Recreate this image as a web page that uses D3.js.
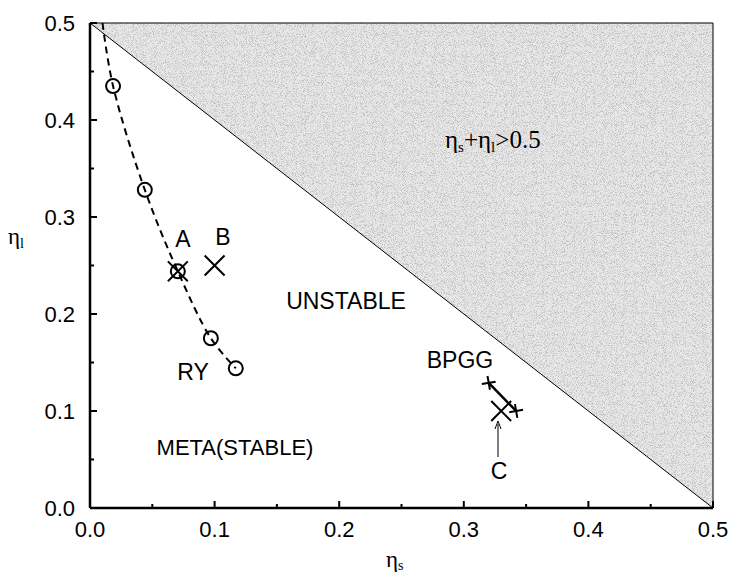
<!DOCTYPE html>
<html>
<head>
<meta charset="utf-8">
<script src="https://cdn.jsdelivr.net/npm/d3@7"></script>
<style>
  html, body { margin: 0; padding: 0; background: #fff; }
  svg { display: block; }
  text { font-family: "Liberation Sans", Arial, Helvetica, sans-serif; fill: #000; }
  .serif { font-family: "Liberation Serif", "Times New Roman", serif; }
</style>
</head>
<body>
<svg id="chart" width="729" height="576"></svg>
<script>
// Stability boundary traced by the dashed curve (eta_s, eta_l)
const boundaryS = [0.010, 0.0185, 0.044, 0.0705, 0.097, 0.117];
const boundaryL = [0.500, 0.435, 0.328, 0.244, 0.175, 0.144];
// Circles computed along the boundary (first point is the curve's start)
const circleS = [0.0185, 0.044, 0.0705, 0.097, 0.117];
const circleL = [0.435, 0.328, 0.244, 0.175, 0.144];
// Cross markers: A, B, C
const crossNames = ["A", "B", "C"];
const crossS = [0.0705, 0.100, 0.330];
const crossL = [0.244, 0.250, 0.100];
// BPGG pair joined by a segment
const plusS = [0.320, 0.342];
const plusL = [0.129, 0.100];
// Axis ticks
const majorTicks = [0.0, 0.1, 0.2, 0.3, 0.4, 0.5];
const minorTicks = [0.05, 0.15, 0.25, 0.35, 0.45];
const tickLabels = ["0.0", "0.1", "0.2", "0.3", "0.4", "0.5"];

const svg = d3.select("#chart");
const x = d3.scaleLinear().domain([0, 0.5]).range([90, 713]);
const y = d3.scaleLinear().domain([0, 0.5]).range([508, 23]);

// Stipple texture for the region eta_s + eta_l > 0.5
const defs = svg.append("defs");
const f = defs.append("filter").attr("id", "stipple")
  .attr("x", 0).attr("y", 0).attr("width", 1).attr("height", 1);
f.append("feTurbulence").attr("type", "fractalNoise").attr("baseFrequency", 1.1)
  .attr("numOctaves", 2).attr("seed", 7).attr("result", "n");
f.append("feColorMatrix").attr("in", "n").attr("type", "matrix")
  .attr("values", "0 0 0 0 0  0 0 0 0 0  0 0 0 0 0  5 0 0 0 -2.4").attr("result", "dots");
f.append("feComposite").attr("in", "dots").attr("in2", "SourceGraphic").attr("operator", "in");

const tri = [[0, 0.5], [0.5, 0.5], [0.5, 0]];
const triPath = d3.line().x(d => x(d[0])).y(d => y(d[1]))(tri) + "Z";
svg.append("path").attr("d", triPath).attr("fill", "#e8e8e8");
svg.append("path").attr("d", triPath).attr("fill", "#000").attr("opacity", 0.16)
  .attr("filter", "url(#stipple)");

// Frame lines of the shaded region and the diagonal eta_s + eta_l = 0.5
svg.append("path").attr("d", triPath).attr("fill", "none")
  .attr("stroke", "#000").attr("stroke-width", 1);

// Axes with inward ticks
majorTicks.forEach(v => svg.append("line")
  .attr("x1", x(v)).attr("x2", x(v)).attr("y1", y(0)).attr("y2", y(0) - 7)
  .attr("stroke", "#000").attr("stroke-width", 2));
minorTicks.forEach(v => svg.append("line")
  .attr("x1", x(v)).attr("x2", x(v)).attr("y1", y(0)).attr("y2", y(0) - 4)
  .attr("stroke", "#000").attr("stroke-width", 2));
majorTicks.forEach(v => svg.append("line")
  .attr("y1", y(v)).attr("y2", y(v)).attr("x1", x(0)).attr("x2", x(0) + 7)
  .attr("stroke", "#000").attr("stroke-width", 2));
minorTicks.forEach(v => svg.append("line")
  .attr("y1", y(v)).attr("y2", y(v)).attr("x1", x(0)).attr("x2", x(0) + 4)
  .attr("stroke", "#000").attr("stroke-width", 2));
svg.append("line").attr("x1", x(0)).attr("x2", x(0.5)).attr("y1", y(0)).attr("y2", y(0))
  .attr("stroke", "#000").attr("stroke-width", 2.5);
svg.append("line").attr("x1", x(0)).attr("x2", x(0)).attr("y1", y(0)).attr("y2", y(0.5))
  .attr("stroke", "#000").attr("stroke-width", 2.5);

svg.append("g").selectAll("text").data(majorTicks).join("text")
  .attr("x", d => x(d)).attr("y", 537).attr("text-anchor", "middle")
  .attr("font-size", 22).text((d, i) => tickLabels[i]);
svg.append("g").selectAll("text").data(majorTicks).join("text")
  .attr("x", 75).attr("y", d => y(d) + 8).attr("text-anchor", "end")
  .attr("font-size", 22).text((d, i) => tickLabels[i]);

// Axis titles
const xt = svg.append("text").attr("class", "serif").attr("x", 386).attr("y", 567).attr("font-size", 23);
xt.append("tspan").text("η");
xt.append("tspan").attr("font-size", 14).attr("dy", 3).text("s");
const yt = svg.append("text").attr("class", "serif").attr("x", 8).attr("y", 244).attr("font-size", 23);
yt.append("tspan").text("η");
yt.append("tspan").attr("font-size", 14).attr("dy", 4).text("l");

// Region label
const rl = svg.append("text").attr("class", "serif").attr("x", 445).attr("y", 148).attr("font-size", 25);
rl.append("tspan").text("η");
rl.append("tspan").attr("font-size", 15).attr("dy", 4).text("s");
rl.append("tspan").attr("dy", -4).text("+η");
rl.append("tspan").attr("font-size", 15).attr("dy", 4).text("l");
rl.append("tspan").attr("dy", -4).text(">0.5");

// Dashed boundary curve
const bnd = boundaryS.map((s, i) => [s, boundaryL[i]]);
svg.append("path")
  .attr("d", d3.line().x(d => x(d[0])).y(d => y(d[1])).curve(d3.curveCatmullRom)(bnd))
  .attr("fill", "none").attr("stroke", "#000").attr("stroke-width", 2)
  .attr("stroke-dasharray", "7,5");

// Circles
svg.append("g").selectAll("circle").data(circleS).join("circle")
  .attr("cx", d => x(d)).attr("cy", (d, i) => y(circleL[i])).attr("r", 7)
  .attr("fill", "none").attr("stroke", "#000").attr("stroke-width", 2);

// Cross markers
const cross = d3.symbol().type(d3.symbolTimes).size(260);
svg.append("g").selectAll("path").data(crossS).join("path")
  .attr("transform", (d, i) => `translate(${x(d)},${y(crossL[i])})`)
  .attr("d", cross).attr("fill", "none").attr("stroke", "#000").attr("stroke-width", 2);

// BPGG segment and plus markers
svg.append("line")
  .attr("x1", x(plusS[0])).attr("y1", y(plusL[0]))
  .attr("x2", x(plusS[1])).attr("y2", y(plusL[1]))
  .attr("stroke", "#000").attr("stroke-width", 2.5);
svg.append("g").selectAll("g").data(plusS).join("g")
  .attr("transform", (d, i) => `translate(${x(d)},${y(plusL[i])}) rotate(-10)`)
  .each(function () {
    const g = d3.select(this);
    g.append("line").attr("x1", -7).attr("x2", 7).attr("stroke", "#000").attr("stroke-width", 2);
    g.append("line").attr("y1", -7).attr("y2", 7).attr("stroke", "#000").attr("stroke-width", 2);
  });

// Text labels
svg.append("text").attr("x", 183).attr("y", 247).attr("text-anchor", "middle").attr("font-size", 23).text("A");
svg.append("text").attr("x", 223).attr("y", 245).attr("text-anchor", "middle").attr("font-size", 23).text("B");
svg.append("text").attr("x", 193).attr("y", 380).attr("text-anchor", "middle").attr("font-size", 23).text("RY");
svg.append("text").attr("x", 346).attr("y", 309).attr("text-anchor", "middle").attr("font-size", 23).text("UNSTABLE");
svg.append("text").attr("x", 235).attr("y", 455).attr("text-anchor", "middle").attr("font-size", 22).text("META(STABLE)");
svg.append("text").attr("x", 460).attr("y", 368).attr("text-anchor", "middle").attr("font-size", 23).text("BPGG");
svg.append("text").attr("x", 499).attr("y", 479).attr("text-anchor", "middle").attr("font-size", 23).text("C");

// Arrow pointing at C
svg.append("line").attr("x1", 498).attr("x2", 498).attr("y1", 457).attr("y2", 424)
  .attr("stroke", "#000").attr("stroke-width", 1);
svg.append("path").attr("d", "M495,429 L498,421 L501,429")
  .attr("fill", "none").attr("stroke", "#000").attr("stroke-width", 1);
</script>
</body>
</html>
